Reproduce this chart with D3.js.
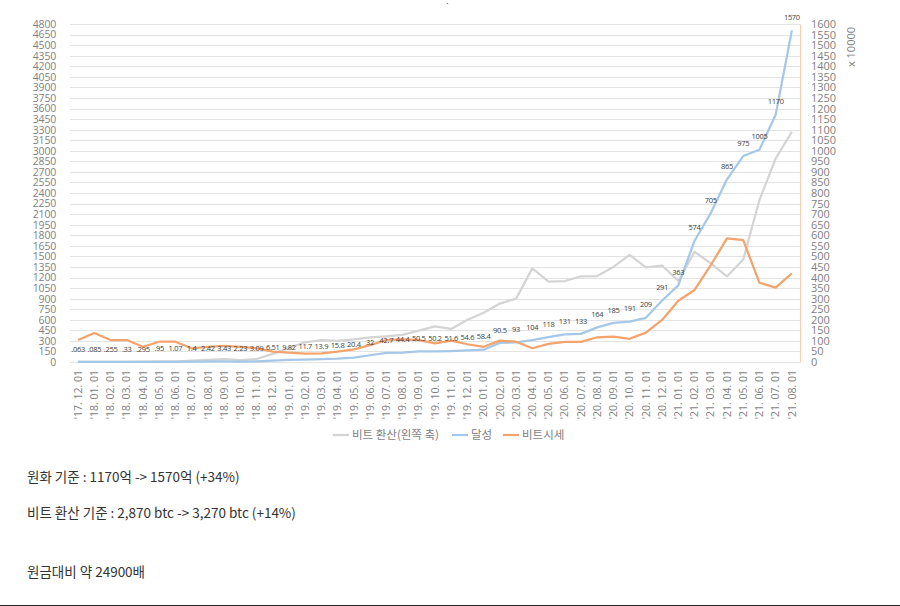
<!DOCTYPE html>
<html>
<head>
<meta charset="utf-8">
<script src="https://cdn.jsdelivr.net/npm/d3@7"></script>
<style>
  html, body { margin: 0; padding: 0; background: #fff; }
  svg { display: block; }
</style>
</head>
<body>
<div id="chart"></div>
<script>
const categories = [
  "'17. 12. 01", "'18. 01. 01", "'18. 02. 01", "'18. 03. 01", "'18. 04. 01", "'18. 05. 01",
  "'18. 06. 01", "'18. 07. 01", "'18. 08. 01", "'18. 09. 01", "'18. 10. 01", "'18. 11. 01",
  "'18. 12. 01", "'19. 01. 01", "'19. 02. 01", "'19. 03. 01", "'19. 04. 01", "'19. 05. 01",
  "'19. 06. 01", "'19. 07. 01", "'19. 08. 01", "'19. 09. 01", "'19. 10. 01", "'19. 11. 01",
  "'19. 12. 01", "'20. 01. 01", "'20. 02. 01", "'20. 03. 01", "'20. 04. 01", "'20. 05. 01",
  "'20. 06. 01", "'20. 07. 01", "'20. 08. 01", "'20. 09. 01", "'20. 10. 01", "'20. 11. 01",
  "'20. 12. 01", "'21. 01. 01", "'21. 02. 01", "'21. 03. 01", "'21. 04. 01", "'21. 05. 01",
  "'21. 06. 01", "'21. 07. 01", "'21. 08. 01"
];

// 비트 환산 (left axis)
const btcValues = [
  1, 1, 2, 3, 4, 9, 10, 20, 30, 42, 28, 42,
  115, 200, 280, 310, 300, 320, 350, 365, 385, 445, 505, 470,
  600, 700, 830, 900, 1330, 1140, 1150, 1215, 1220, 1350, 1520, 1345,
  1370, 1150, 1565, 1400, 1215, 1455, 2300, 2890, 3270
];

// 달성 (right axis, x 10000)
const achieved = [
  0.063, 0.085, 0.255, 0.33, 0.295, 0.95, 1.07, 1.4, 2.42, 3.43, 2.23, 3.09,
  6.51, 9.82, 11.7, 13.9, 15.8, 20.4, 32, 42.7, 44.4, 50.5, 50.2, 51.6,
  54.6, 58.4, 90.5, 93, 104, 118, 131, 133, 164, 185, 191, 209,
  291, 363, 574, 705, 865, 975, 1005, 1170, 1570
];

// 비트시세 (right axis)
const btcPrice = [
  104, 137, 104, 104, 72, 96, 96, 65, 72, 76, 72, 65,
  49, 44, 40, 41, 49, 60, 80, 104, 107, 104, 88, 101,
  84, 72, 101, 96, 65, 86, 95, 95, 117, 120, 110, 139,
  199, 290, 341, 459, 585, 577, 375, 352, 420
];

const leftTicks = d3.range(0, 4801, 150);
const rightTicks = d3.range(0, 1601, 50);

const seriesNames = ['비트 환산(왼쪽 축)', '달성', '비트시세'];
const seriesColors = ['#d4d4d4', '#a6c8e8', '#f3a36b'];

const notes = [
  '원화 기준 : 1170억 -> 1570억 (+34%)',
  '비트 환산 기준 : 2,870 btc -> 3,270 btc (+14%)',
  '원금대비 약 24900배'
];

const width = 900, height = 606;
const plot = { left: 70, right: 800, top: 24, bottom: 362 };
const numFont = '"Open Sans", "Noto Sans CJK KR", sans-serif';
const krFont = '"Noto Sans CJK KR", "Noto Sans", sans-serif';

const svg = d3.select('#chart').append('svg')
  .attr('width', width)
  .attr('height', height);

const x = d3.scaleBand().domain(categories).range([plot.left, plot.right]);
const cx = d => x(d) + x.bandwidth() / 2;
const yL = d3.scaleLinear().domain([0, 4800]).range([plot.bottom, plot.top]);
const yR = d3.scaleLinear().domain([0, 1600]).range([plot.bottom, plot.top]);

// grid
svg.append('g')
  .selectAll('line')
  .data(leftTicks)
  .enter()
  .append('line')
  .attr('x1', plot.left)
  .attr('x2', plot.right)
  .attr('y1', d => Math.round(yL(d)) + 0.5)
  .attr('y2', d => Math.round(yL(d)) + 0.5)
  .attr('stroke', '#e3e3e3')
  .attr('stroke-width', 1);

// left axis
const leftAxis = svg.append('g')
  .attr('transform', `translate(${plot.left - 8},0)`)
  .call(d3.axisLeft(yL).tickValues(leftTicks).tickFormat(d3.format('d')).tickSize(0).tickPadding(6));
leftAxis.select('.domain').remove();
leftAxis.selectAll('text')
  .style('font-family', numFont)
  .style('font-size', '10.5px')
  .style('letter-spacing', '-0.2px')
  .style('fill', '#7f7f7f');

// right axis
const rightAxis = svg.append('g')
  .attr('transform', `translate(${plot.right},0)`)
  .call(d3.axisRight(yR).tickValues(rightTicks).tickFormat(d3.format('d')).tickSize(0).tickPadding(11));
rightAxis.select('.domain').attr('stroke', '#f8cfb2');
rightAxis.selectAll('text')
  .style('font-family', numFont)
  .style('font-size', '11px')
  .style('fill', '#7f7f7f');

svg.append('text')
  .attr('transform', 'translate(851,47) rotate(-90)')
  .attr('text-anchor', 'middle')
  .attr('dy', '0.35em')
  .style('font-family', numFont)
  .style('font-size', '11px')
  .style('fill', '#7f7f7f')
  .text('x 10000');

// bottom axis
const xAxis = svg.append('g')
  .attr('transform', `translate(0,${plot.bottom})`)
  .call(d3.axisBottom(x).tickSize(0).tickPadding(0));
xAxis.select('.domain').remove();
xAxis.selectAll('text')
  .attr('transform', 'translate(0,8) rotate(-90)')
  .attr('dy', '0.35em')
  .attr('x', 0)
  .attr('y', 0)
  .style('text-anchor', 'end')
  .style('font-family', numFont)
  .style('font-size', '10.5px')
  .style('fill', '#7f7f7f');

// lines
const lineL = d3.line().x((d, i) => cx(categories[i])).y(d => yL(d));
const lineR = d3.line().x((d, i) => cx(categories[i])).y(d => yR(d));

[[btcValues, lineL, seriesColors[0]], [achieved, lineR, seriesColors[1]], [btcPrice, lineR, seriesColors[2]]]
  .forEach(([data, gen, color]) => {
    svg.append('path')
      .datum(data)
      .attr('fill', 'none')
      .attr('stroke', color)
      .attr('stroke-width', 2.25)
      .attr('stroke-linejoin', 'round')
      .attr('d', gen);
  });

// data labels on 달성
svg.append('g')
  .selectAll('text')
  .data(achieved)
  .enter()
  .append('text')
  .attr('x', (d, i) => cx(categories[i]))
  .attr('y', d => yR(d) - 13)
  .attr('dy', '0.35em')
  .attr('text-anchor', 'middle')
  .style('font-family', numFont)
  .style('font-size', '7.5px')
  .style('letter-spacing', '-0.3px')
  .style('fill', '#404040')
  .text(d => d < 1 ? String(d).replace(/^0/, '') : String(d));

// legend
const legendItems = [
  { name: seriesNames[0], color: seriesColors[0], x: 333 },
  { name: seriesNames[1], color: seriesColors[1], x: 452 },
  { name: seriesNames[2], color: seriesColors[2], x: 503 }
];
const legend = svg.append('g').attr('transform', 'translate(0,435)');
legend.selectAll('line')
  .data(legendItems)
  .enter()
  .append('line')
  .attr('x1', d => d.x)
  .attr('x2', d => d.x + 16)
  .attr('y1', 0)
  .attr('y2', 0)
  .attr('stroke', d => d.color)
  .attr('stroke-width', 2.25);
legend.selectAll('text')
  .data(legendItems)
  .enter()
  .append('text')
  .attr('x', d => d.x + 19)
  .attr('y', 0)
  .attr('dy', '0.35em')
  .style('font-family', krFont)
  .style('font-size', '11.5px')
  .style('fill', '#7f7f7f')
  .text(d => d.name);

// notes below the chart
svg.append('g')
  .selectAll('text')
  .data(notes)
  .enter()
  .append('text')
  .attr('x', 27)
  .attr('y', (d, i) => [477, 513, 572][i])
  .attr('dy', '0.35em')
  .style('font-family', krFont)
  .style('font-size', '13.5px')
  .style('fill', '#333')
  .text(d => d);

// bottom rule and stray dot
svg.append('line')
  .attr('x1', 0).attr('x2', width)
  .attr('y1', 605.5).attr('y2', 605.5)
  .attr('stroke', '#222')
  .attr('stroke-width', 1);
svg.append('circle')
  .attr('cx', 447.5).attr('cy', 3.5).attr('r', 0.8)
  .attr('fill', '#888');
</script>
</body>
</html>
